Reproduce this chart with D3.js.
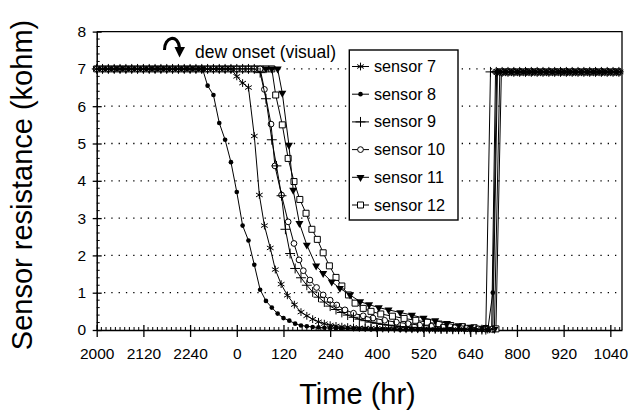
<!DOCTYPE html>
<html>
<head>
<meta charset="utf-8">
<script src="https://cdn.jsdelivr.net/npm/d3@7"></script>
<style>
body { margin: 0; background: #fff; }
svg { display: block; font-family: "Liberation Sans", Arial, sans-serif; }
</style>
</head>
<body>
<svg width="629" height="413"></svg>
<script>
// x is elapsed hours from the left edge; the printed axis labels wrap round
const tickHours = [0, 120, 240, 360, 480, 600, 720, 840, 960, 1080, 1200, 1320];
const tickLabels = ['2000', '2120', '2240', '0', '120', '240', '400', '520', '640', '800', '920', '1040'];
const yTicks = [0, 1, 2, 3, 4, 5, 6, 7, 8];
const gridLevels = [1, 2, 3, 4, 5, 6, 7];
const sensorNames = ['sensor 7', 'sensor 8', 'sensor 9', 'sensor 10', 'sensor 11', 'sensor 12'];

const sensor7 = [[0,7],[15,7],[30,7],[45,7],[60,7],[75,7],[90,7],[105,7],[120,7],[135,7],[150,7],[165,7],[180,7],[195,7],[210,7],[225,7],[240,7],[255,7],[270,7],[285,7],[300,7],[315,7],[330,7],[345,7],
  [360,6.8],[375,6.62],[390,6.5],[405,5.2],[418,3.62],[431,2.8],[446,2.2],[459,1.62],[474,1.23],[490,0.93],[508,0.68],[525,0.48],[540,0.38],[555,0.29],[570,0.22],[585,0.17],[600,0.13],[615,0.11],[630,0.09],[645,0.08],[660,0.07],[675,0.06],[690,0.05],[705,0.05],[720,0.04],[735,0.04],[750,0.03],[765,0.03],[780,0.03],[795,0.02],[810,0.02],[825,0.02],[840,0.02],[855,0.02],[870,0.01],[885,0.01],[900,0.01],[915,0.01],[930,0.01],[945,0.01],[960,0.01],[975,0.01],[990,0.01],[1005,0.01],[1018,0.02],
  [1030,6.92],[1045,6.92],[1060,6.92],[1075,6.92],[1090,6.92],[1105,6.92],[1120,6.92],[1135,6.92],[1150,6.92],[1165,6.92],[1180,6.92],[1195,6.92],[1210,6.92],[1225,6.92],[1240,6.92],[1255,6.92],[1270,6.92],[1285,6.92],[1300,6.92],[1315,6.92],[1330,6.92],[1345,6.92]];

const sensor8 = [[7,7],[22,7],[37,7],[52,7],[67,7],[82,7],[97,7],[112,7],[127,7],[142,7],[157,7],[172,7],[187,7],[202,7],[217,7],[232,7],[247,7],[262,7],[272,7],
  [285,6.55],[300,6.3],[315,5.55],[330,5.1],[345,4.5],[360,3.7],[375,2.8],[390,2.4],[405,1.75],[420,1.08],[435,0.78],[450,0.6],[465,0.44],[480,0.32],[495,0.25],[510,0.17],[525,0.12],[540,0.1],[555,0.08],[570,0.07],[585,0.06],[600,0.05],[615,0.05],[630,0.04],[645,0.04],[660,0.03],[675,0.03],[690,0.03],[705,0.02],[720,0.02],[735,0.02],[750,0.02],[765,0.02],[780,0.01],[795,0.01],[810,0.01],[825,0.01],[840,0.01],[855,0.01],[870,0.01],[885,0.01],[900,0.01],[915,0.01],[930,0.01],[945,0.01],[960,0],[975,0],[990,0],[1005,0],[1018,1.0],
  [1028,6.92],[1037,6.92],[1052,6.92],[1067,6.92],[1082,6.92],[1097,6.92],[1112,6.92],[1127,6.92],[1142,6.92],[1157,6.92],[1172,6.92],[1187,6.92],[1202,6.92],[1217,6.92],[1232,6.92],[1247,6.92],[1262,6.92],[1277,6.92],[1292,6.92],[1307,6.92],[1322,6.92],[1337,6.92]];

const sensor9 = [[0,7],[15,7],[30,7],[45,7],[60,7],[75,7],[90,7],[105,7],[120,7],[135,7],[150,7],[165,7],[180,7],[195,7],[210,7],[225,7],[240,7],[255,7],[270,7],[285,7],[300,7],[315,7],[330,7],[345,7],[360,7],[375,7],[390,7],[405,7],
  [420,6.9],[435,6.2],[450,5.1],[462,4.4],[475,3.6],[485,2.7],[497,2.05],[510,1.65],[525,1.4],[540,1.2],[555,1.02],[570,0.88],[585,0.75],[600,0.64],[615,0.55],[630,0.47],[645,0.4],[660,0.34],[675,0.29],[690,0.25],[705,0.21],[720,0.18],[735,0.15],[750,0.13],[765,0.11],[780,0.09],[795,0.08],[810,0.07],[825,0.06],[840,0.05],[855,0.04],[870,0.04],[885,0.03],[900,0.03],[915,0.02],[930,0.02],[945,0.02],[960,0.01],[975,0.01],[990,0.01],[1000,0.01],
  [1012,6.92],[1027,6.92],[1042,6.92],[1057,6.92],[1072,6.92],[1087,6.92],[1102,6.92],[1117,6.92],[1132,6.92],[1147,6.92],[1162,6.92],[1177,6.92],[1192,6.92],[1207,6.92],[1222,6.92],[1237,6.92],[1252,6.92],[1267,6.92],[1282,6.92],[1297,6.92],[1312,6.92],[1327,6.92],[1342,6.92]];

const sensor10 = [[0,7],[15,7],[30,7],[45,7],[60,7],[75,7],[90,7],[105,7],[120,7],[135,7],[150,7],[165,7],[180,7],[195,7],[210,7],[225,7],[240,7],[255,7],[270,7],[285,7],[300,7],[315,7],[330,7],[345,7],[360,7],[375,7],[390,7],[405,7],[420,7],
  [431,6.45],[448,5.52],[458,4.4],[475,3.62],[492,2.9],[507,2.32],[520,1.88],[531,1.59],[548,1.34],[565,1.14],[582,0.94],[600,0.8],[617,0.67],[638,0.54],[660,0.45],[685,0.38],[710,0.32],[740,0.26],[770,0.21],[800,0.17],[830,0.13],[860,0.1],[890,0.08],[920,0.06],[950,0.04],[980,0.03],[1000,0.02],[1015,0.02],
  [1025,6.92],[1040,6.92],[1055,6.92],[1070,6.92],[1085,6.92],[1100,6.92],[1115,6.92],[1130,6.92],[1145,6.92],[1160,6.92],[1175,6.92],[1190,6.92],[1205,6.92],[1220,6.92],[1235,6.92],[1250,6.92],[1265,6.92],[1280,6.92],[1295,6.92],[1310,6.92],[1325,6.92],[1340,6.92]];

const sensor11 = [[0,7],[15,7],[30,7],[45,7],[60,7],[75,7],[90,7],[105,7],[120,7],[135,7],[150,7],[165,7],[180,7],[195,7],[210,7],[225,7],[240,7],[255,7],[270,7],[285,7],[300,7],[315,7],[330,7],[345,7],[360,7],[375,7],[390,7],[405,7],[420,7],[435,7],[450,7],[465,7],
  [477,6.35],[494,4.96],[505,3.75],[521,2.86],[540,2.28],[564,1.72],[582,1.52],[604,1.29],[625,1.12],[651,0.94],[677,0.76],[700,0.68],[725,0.6],[750,0.54],[780,0.47],[810,0.4],[840,0.32],[870,0.25],[900,0.18],[930,0.12],[960,0.08],[990,0.05],[1010,0.03],[1022,0.02],
  [1036,6.92],[1051,6.92],[1066,6.92],[1081,6.92],[1096,6.92],[1111,6.92],[1126,6.92],[1141,6.92],[1156,6.92],[1171,6.92],[1186,6.92],[1201,6.92],[1216,6.92],[1231,6.92],[1246,6.92],[1261,6.92],[1276,6.92],[1291,6.92],[1306,6.92],[1321,6.92],[1336,6.92]];

const sensor12 = [[0,7],[15,7],[30,7],[45,7],[60,7],[75,7],[90,7],[105,7],[120,7],[135,7],[150,7],[165,7],[180,7],[195,7],[210,7],[225,7],[240,7],[255,7],[270,7],[285,7],[300,7],[315,7],[330,7],[345,7],[360,7],[375,7],[390,7],[405,7],[420,7],[435,7],[450,7],
  [460,6.3],[477,5.5],[492,4.6],[507,3.98],[522,3.5],[538,3.13],[553,2.7],[567,2.43],[582,2.07],[598,1.72],[615,1.41],[630,1.18],[647,0.94],[664,0.72],[685,0.58],[705,0.5],[730,0.43],[760,0.37],[790,0.31],[820,0.26],[850,0.21],[880,0.16],[910,0.12],[940,0.09],[970,0.06],[1000,0.04],[1026,0.03],
  [1040,6.92],[1055,6.92],[1070,6.92],[1085,6.92],[1100,6.92],[1115,6.92],[1130,6.92],[1145,6.92],[1160,6.92],[1175,6.92],[1190,6.92],[1205,6.92],[1220,6.92],[1235,6.92],[1250,6.92],[1265,6.92],[1280,6.92],[1295,6.92],[1310,6.92],[1325,6.92],[1340,6.92]];

const series = [sensor7, sensor8, sensor9, sensor10, sensor11, sensor12];

const svg = d3.select('svg');
const plotLeft = 96.7, plotRight = 622, plotTop = 31.6, plotBottom = 330;

const x = d3.scaleLinear().domain([0, 1350]).range([plotLeft, plotRight]);
const y = d3.scaleLinear().domain([0, 8]).range([plotBottom, plotTop]);

// marker shapes, one per sensor
const marks = [
  { path: d3.symbol(d3.symbolAsterisk, 42)(), fill: 'none', stroke: '#000', rot: 0 },
  { path: d3.symbol(d3.symbolCircle, 17)(), fill: '#000', stroke: 'none', rot: 0 },
  { path: d3.symbol(d3.symbolPlus, 34)(), fill: 'none', stroke: '#000', rot: 0 },
  { path: d3.symbol(d3.symbolCircle, 26)(), fill: '#fff', stroke: '#000', rot: 0 },
  { path: d3.symbol(d3.symbolTriangle, 28)(), fill: '#000', stroke: 'none', rot: 180 },
  { path: d3.symbol(d3.symbolSquare, 36)(), fill: '#fff', stroke: '#000', rot: 0 }
];

// dotted grid
svg.append('g').selectAll('line').data(gridLevels).enter().append('line')
  .attr('x1', plotLeft).attr('x2', plotRight)
  .attr('y1', d => y(d)).attr('y2', d => y(d))
  .attr('stroke', '#000').attr('stroke-width', 1.3)
  .attr('stroke-dasharray', '1.3,6');

// frame top and right
svg.append('path')
  .attr('d', `M${plotLeft},${plotTop}H${plotRight}V${plotBottom}`)
  .attr('fill', 'none').attr('stroke', '#000').attr('stroke-width', 1.3);

// minor ticks
const minorX = d3.range(0, 1350, 12).filter(h => h % 120 !== 0);
svg.append('g').selectAll('line').data(minorX).enter().append('line')
  .attr('x1', d => x(d)).attr('x2', d => x(d))
  .attr('y1', plotBottom).attr('y2', plotBottom - 3)
  .attr('stroke', '#000').attr('stroke-width', 1);
const minorY = d3.range(0, 8, 0.2).filter(v => Math.abs(v - Math.round(v)) > 0.01);
svg.append('g').selectAll('line').data(minorY).enter().append('line')
  .attr('x1', plotLeft).attr('x2', plotLeft + 3)
  .attr('y1', d => y(d)).attr('y2', d => y(d))
  .attr('stroke', '#000').attr('stroke-width', 1);

const xAxis = svg.append('g')
  .attr('transform', `translate(0,${plotBottom})`)
  .call(d3.axisBottom(x).tickValues(tickHours).tickFormat((d, i) => tickLabels[i])
    .tickSize(7).tickPadding(11).tickSizeOuter(0));
xAxis.selectAll('.tick line').attr('y1', -5).attr('stroke-width', 1.3);
xAxis.select('.domain').attr('stroke-width', 1.5);
xAxis.selectAll('text').attr('font-size', 15.5).attr('font-family', null).attr('fill', '#000');

const yAxis = svg.append('g')
  .attr('transform', `translate(${plotLeft},0)`)
  .call(d3.axisLeft(y).tickValues(yTicks).tickSize(4).tickPadding(6.5).tickSizeOuter(0));
yAxis.selectAll('.tick line').attr('x1', 5).attr('stroke-width', 1.3);
yAxis.select('.domain').attr('stroke-width', 1.5);
yAxis.selectAll('text').attr('font-size', 15.5).attr('font-family', null).attr('fill', '#000');

// curves, drawn from sensor 12 back to sensor 7 so the dark markers sit on top
const line = d3.line().x(d => x(d[0])).y(d => y(d[1]));
d3.range(series.length - 1, -1, -1).forEach(i => {
  const data = series[i];
  const g = svg.append('g');
  g.append('path').attr('d', line(data))
    .attr('fill', 'none').attr('stroke', '#000').attr('stroke-width', 1);
  g.selectAll('path.mk').data(data).enter().append('path')
    .attr('class', 'mk')
    .attr('d', marks[i].path)
    .attr('transform', d => `translate(${x(d[0])},${y(d[1])}) rotate(${marks[i].rot})`)
    .attr('fill', marks[i].fill).attr('stroke', marks[i].stroke).attr('stroke-width', 1);
});

// legend
const legend = svg.append('g');
legend.append('rect')
  .attr('x', 349.3).attr('y', 50).attr('width', 108.7).attr('height', 170)
  .attr('fill', '#fff').attr('stroke', '#000').attr('stroke-width', 1.4);
sensorNames.forEach((name, i) => {
  const ly = 66.5 + i * 27.7;
  legend.append('line').attr('x1', 352).attr('x2', 369).attr('y1', ly).attr('y2', ly)
    .attr('stroke', '#000').attr('stroke-width', 1);
  legend.append('path').attr('d', marks[i].path)
    .attr('transform', `translate(360.5,${ly}) rotate(${marks[i].rot})`)
    .attr('fill', marks[i].fill).attr('stroke', marks[i].stroke).attr('stroke-width', 1);
  legend.append('text').attr('x', 374).attr('y', ly + 5.5)
    .attr('font-size', 16.2).text(name);
});

// annotation
svg.append('text').attr('x', 195).attr('y', 57.5).attr('font-size', 17.5)
  .text('dew onset (visual)');
svg.append('path').attr('d', 'M164.5,50 C164,37 178,33 179.5,48')
  .attr('fill', 'none').attr('stroke', '#000').attr('stroke-width', 3);
svg.append('path').attr('d', 'M174.5,47 L185,47 L179.5,57.5 Z').attr('fill', '#000');

// titles
svg.append('text').attr('x', 357.5).attr('y', 404).attr('text-anchor', 'middle')
  .attr('font-size', 29).text('Time (hr)');
svg.append('text').attr('transform', 'translate(32,185) rotate(-90)')
  .attr('text-anchor', 'middle').attr('font-size', 29).text('Sensor resistance (kohm)');
</script>
</body>
</html>
